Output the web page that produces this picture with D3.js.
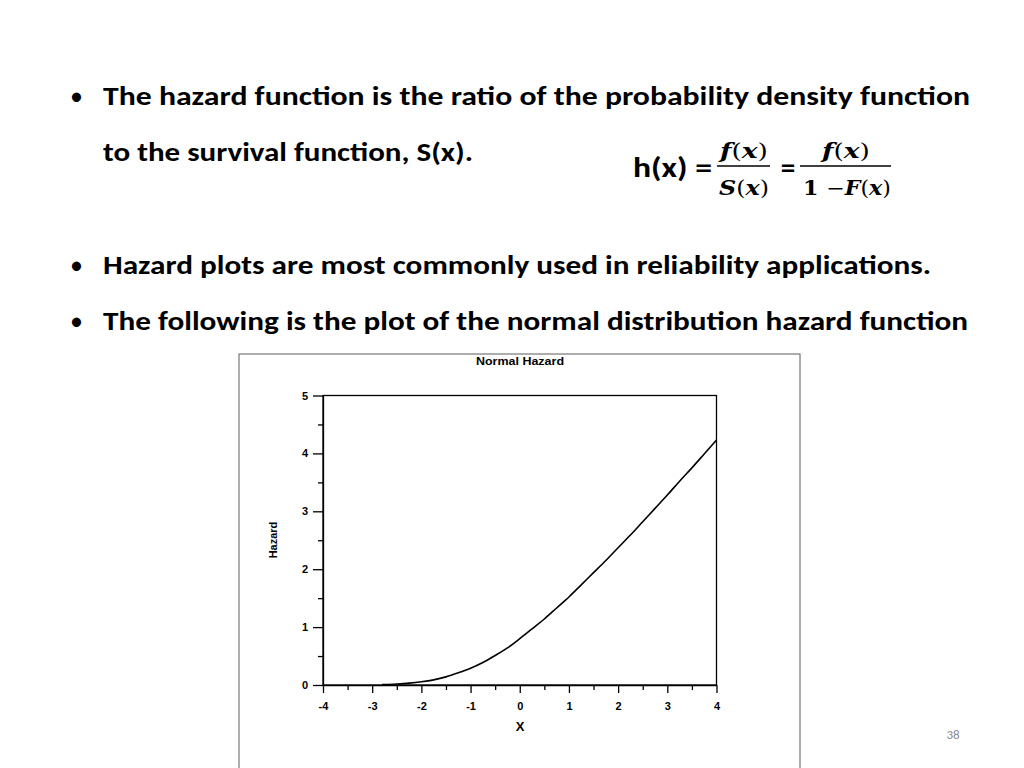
<!DOCTYPE html>
<html><head><meta charset="utf-8">
<script src="https://cdn.jsdelivr.net/npm/d3@7"></script>
<style>body{margin:0;background:#fff;} svg{display:block;}</style>
</head><body>
<script>
// Data
const xValues = [-2.8,-2.5,-2.25,-2,-1.75,-1.5,-1.25,-1,-0.75,-0.5,-0.25,0,0.25,0.5,0.75,1,1.25,1.5,1.75,2,2.25,2.5,2.75,3,3.25,3.5,3.75,4];
const hazardValues = [0.008,0.018,0.032,0.055,0.089,0.14,0.21,0.29,0.39,0.51,0.64,0.80,0.97,1.14,1.33,1.52,1.73,1.94,2.15,2.37,2.59,2.82,3.05,3.28,3.52,3.75,3.99,4.23];
const xTicks = [-4,-3,-2,-1,0,1,2,3,4];
const yTicks = [0,1,2,3,4,5];
const bulletLines = [
  {t:"The hazard function is the ratio of the probability density function", bullet:true, y:105, w:867},
  {t:"to the survival function, S(x).", bullet:false, y:161, w:370},
  {t:"Hazard plots are most commonly used in reliability applications.", bullet:true, y:274, w:828},
  {t:"The following is the plot of the normal distribution hazard function", bullet:true, y:330, w:865}
];

const svg = d3.select("body").append("svg").attr("width",1024).attr("height",768);
const FONT = "Carlito, 'Open Sans', 'Noto Sans', sans-serif";

bulletLines.forEach(d=>{
  if(d.bullet) svg.append("text").attr("x",70).attr("y",d.y).attr("font-family",FONT).attr("font-size",26).text("•");
  svg.append("text").attr("x",103).attr("y",d.y).attr("font-family",FONT).attr("font-weight","bold")
    .attr("font-size",26).attr("textLength",d.w).attr("lengthAdjust","spacingAndGlyphs").text(d.t);
});

// Formula
const MF = "'DejaVu Serif', 'Liberation Serif', serif";
svg.append("text").attr("x",633).attr("y",177).attr("font-family",FONT).attr("font-weight","bold").attr("font-size",29)
  .attr("textLength",79).attr("lengthAdjust","spacingAndGlyphs").text("h(x) =");
function mathText(x,y,parts,anchor,len){
  const t = svg.append("text").attr("x",x).attr("y",y).attr("font-family",MF).attr("font-weight","bold")
    .attr("font-size",20).attr("text-anchor",anchor);
  if(len) t.attr("textLength",len).attr("lengthAdjust","spacingAndGlyphs");
  parts.forEach(p=>t.append("tspan").attr("font-style",p[1]?"italic":"normal").attr("font-weight",p[2]===false?"normal":"bold").text(p[0]));
}
mathText(744,158,[["f",true],["(",false,false],["x",true],[")",false,false]],"middle",48);
mathText(744,195,[["S",true],["(",false,false],["x",true],[")",false,false]],"middle",50);
svg.append("line").attr("x1",717).attr("x2",770).attr("y1",166).attr("y2",166).attr("stroke","#000").attr("stroke-width",1.5);
svg.append("text").attr("x",788).attr("y",177).attr("font-family",FONT).attr("font-weight","bold").attr("font-size",29).attr("text-anchor","middle").text("=");
mathText(846,158,[["f",true],["(",false,false],["x",true],[")",false,false]],"middle",48);
mathText(847,195,[["1 ",false],["−",false,false],["F",true],["(",false,false],["x",true],[")",false,false]],"middle",88);
svg.append("line").attr("x1",800).attr("x2",891).attr("y1",166).attr("y2",166).attr("stroke","#000").attr("stroke-width",1.5);

// Page number
svg.append("text").attr("x",953).attr("y",739).attr("text-anchor","middle").attr("font-family",FONT).attr("font-size",13).attr("fill","#888").text("38");

// Chart image frame
svg.append("rect").attr("x",239).attr("y",354).attr("width",561).attr("height",420).attr("fill","#fff").attr("stroke","#777").attr("stroke-width",1.2);

const x = d3.scaleLinear().domain([-4,4]).range([323,716.5]);
const y = d3.scaleLinear().domain([0,5]).range([685,395.5]);
const CF = "'Liberation Sans', Arial, sans-serif";

svg.append("text").attr("x",520).attr("y",365).attr("text-anchor","middle").attr("font-family",CF).attr("font-size",11)
  .attr("textLength",88).attr("lengthAdjust","spacingAndGlyphs").attr("font-weight","bold").text("Normal Hazard");

// plot box
svg.append("rect").attr("x",x(-4)).attr("y",y(5)).attr("width",x(4)-x(-4)).attr("height",y(0)-y(5)).attr("fill","none").attr("stroke","#000").attr("stroke-width",1.3);

// x axis
svg.append("g").attr("transform",`translate(0,${y(0)})`)
  .call(d3.axisBottom(x).tickValues(xTicks).tickSize(8).tickPadding(9).tickSizeOuter(0).tickFormat(d=>String(d)));
svg.append("g").attr("transform",`translate(0,${y(0)})`)
  .call(d3.axisBottom(x).tickValues(d3.range(-3.5,4,1)).tickSize(5).tickFormat(""))
  .call(g=>g.select(".domain").remove());
// y axis
svg.append("g").attr("transform",`translate(${x(-4)},0)`)
  .call(d3.axisLeft(y).tickValues(yTicks).tickSize(10).tickPadding(5).tickSizeOuter(0).tickFormat(d=>String(d)));
svg.append("g").attr("transform",`translate(${x(-4)},0)`)
  .call(d3.axisLeft(y).tickValues(d3.range(0.5,5,1)).tickSize(5).tickFormat(""))
  .call(g=>g.select(".domain").remove());
svg.selectAll(".tick line,.domain").attr("stroke","#000").attr("stroke-width",1.3);
svg.selectAll(".tick text").attr("font-family",CF).attr("font-size",11).attr("font-weight","bold").attr("fill","#000");

svg.append("text").attr("x",520).attr("y",731).attr("text-anchor","middle").attr("font-family",CF).attr("font-size",13).attr("font-weight","bold").text("X");
svg.append("text").attr("transform","translate(277,540) rotate(-90)").attr("text-anchor","middle").attr("font-family",CF).attr("font-size",11).attr("font-weight","bold").text("Hazard");

const line = d3.line().x((d,i)=>x(xValues[i])).y(d=>y(d)).curve(d3.curveMonotoneX);
svg.append("path").datum(hazardValues).attr("d",line).attr("fill","none").attr("stroke","#000").attr("stroke-width",1.6);
</script>
</body></html>
